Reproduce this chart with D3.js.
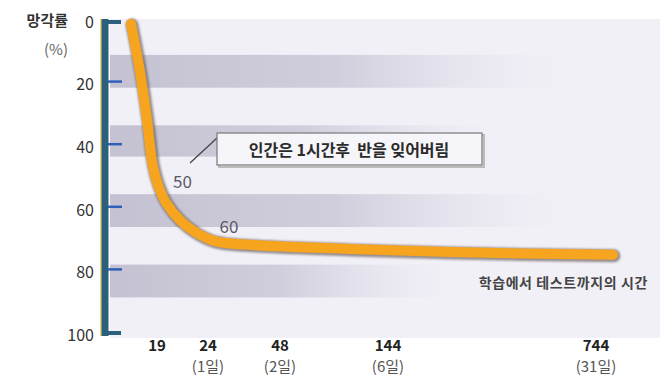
<!DOCTYPE html>
<html><head><meta charset="utf-8">
<script src="https://cdn.jsdelivr.net/npm/d3@7"></script>
<style>body{margin:0;background:#fff}svg{display:block}text{font-family:"Noto Sans CJK KR","Noto Sans",sans-serif}</style>
</head><body>
<svg id="c" width="669" height="381"></svg>
<script>
// ---- data ----
const yTicks = [0, 20, 40, 60, 80, 100];
const xTickHours = [19, 24, 48, 144, 744];
const xTickDays = ["", "(1일)", "(2일)", "(6일)", "(31일)"];
const curveHours = [0, 6.6, 11.7, 15.8, 19.1, 19.9, 21.25, 22.9, 26.3, 38, 110, 323, 793];
const curvePct   = [0.6, 16, 31.3, 45.7, 52.1, 57.8, 63.3, 67.4, 70, 71.2, 72.5, 73.5, 74.4];
const bandStart = [10.5, 33, 55, 77.5];
const bandEnd   = [21, 43, 65.5, 88];
const bandFade  = [0.82, 0.70, 0.82, 0.62];
const markLabels = ["50", "60"];
const markHours = [21.5, 31];
const markPct = [51, 65.5];

const svg = d3.select("#c");
const y = d3.scaleLinear().domain([0, 100]).range([22, 335]);
const x = d3.scaleLinear().domain([0, 19, 24, 48, 144, 744]).range([131, 157, 208, 280, 388, 596]);

const defs = svg.append("defs");
bandFade.forEach((f, i) => {
  const g = defs.append("linearGradient").attr("id", "bg" + i).attr("x1", 0).attr("x2", 1);
  g.append("stop").attr("offset", 0).attr("stop-color", "#c4c2d2").attr("stop-opacity", 1);
  g.append("stop").attr("offset", f * 0.5).attr("stop-color", "#cac8d7").attr("stop-opacity", 0.85);
  g.append("stop").attr("offset", f).attr("stop-color", "#dcdae5").attr("stop-opacity", 0);
});
const blur = defs.append("filter").attr("id", "sh").attr("x", -0.1).attr("y", -0.1).attr("width", 1.2).attr("height", 1.2);
blur.append("feGaussianBlur").attr("stdDeviation", 1.2);

// plot panel
svg.append("rect").attr("x", 110).attr("y", 19).attr("width", 550).attr("height", 319).attr("fill", "#f2f0f7");
svg.selectAll(".band").data(bandStart).join("rect")
  .attr("x", 110).attr("width", 550)
  .attr("y", d => y(d)).attr("height", (d, i) => y(bandEnd[i]) - y(d))
  .attr("fill", (d, i) => `url(#bg${i})`);

// y axis
svg.append("line").attr("x1", 101).attr("x2", 101).attr("y1", 19).attr("y2", 336).attr("stroke", "#e8c84a").attr("stroke-width", 1.5);
svg.append("line").attr("x1", 105).attr("x2", 105).attr("y1", 19).attr("y2", 336).attr("stroke", "#2b5f7e").attr("stroke-width", 7);
svg.selectAll(".foot").data([0, 100]).join("line")
  .attr("x1", 105).attr("x2", 121).attr("y1", d => y(d) + (d === 0 ? 0 : -2)).attr("y2", d => y(d) + (d === 0 ? 0 : -2))
  .attr("stroke", "#2b5f7e").attr("stroke-width", 4);
svg.selectAll(".tk").data(yTicks.slice(1, -1)).join("line")
  .attr("x1", 108).attr("x2", 122).attr("y1", d => y(d) - 3).attr("y2", d => y(d) - 3)
  .attr("stroke", "#2f5fb8").attr("stroke-width", 2.5);
svg.selectAll(".yl").data(yTicks).join("text")
  .attr("x", 94).attr("y", d => y(d)).attr("dy", "0.36em").attr("text-anchor", "end")
  .attr("font-size", 16).attr("fill", "#333").text(d => d);
svg.append("text").attr("x", 68).attr("y", 21).attr("dy", "0.36em").attr("text-anchor", "end")
  .attr("font-size", 15).attr("font-weight", "bold").attr("fill", "#333").text("망각률");
svg.append("text").attr("x", 68).attr("y", 50).attr("dy", "0.36em").attr("text-anchor", "end")
  .attr("font-size", 15).attr("fill", "#666").text("(%)");

// x labels
svg.selectAll(".xl").data(xTickHours).join("text")
  .attr("x", d => x(d)).attr("y", 346).attr("dy", "0.36em").attr("text-anchor", "middle")
  .attr("font-size", 15).attr("font-weight", "bold").attr("fill", "#222").text(d => d);
svg.selectAll(".xd").data(xTickDays).join("text")
  .attr("x", (d, i) => x(xTickHours[i])).attr("y", 367).attr("dy", "0.36em").attr("text-anchor", "middle")
  .attr("font-size", 15).attr("fill", "#555").text(d => d);

// curve
const line = d3.line().x(d => x(d[0])).y(d => y(d[1])).curve(d3.curveCatmullRom.alpha(0.5));
const pts = curveHours.map((h, i) => [h, curvePct[i]]);
svg.append("path").attr("d", line(pts)).attr("fill", "none").attr("stroke", "#6e6460")
  .attr("stroke-width", 13).attr("stroke-linecap", "round").attr("stroke-linejoin", "round")
  .attr("opacity", 0.7).attr("transform", "translate(1,1)").attr("filter", "url(#sh)");
svg.append("path").attr("d", line(pts)).attr("fill", "none").attr("stroke", "#f7a51f")
  .attr("stroke-width", 10).attr("stroke-linecap", "round").attr("stroke-linejoin", "round");

// marks
svg.selectAll(".ml").data(markLabels).join("text")
  .attr("x", (d, i) => x(markHours[i])).attr("y", (d, i) => y(markPct[i])).attr("dy", "0.36em")
  .attr("text-anchor", "middle").attr("font-size", 17).attr("fill", "#5a5a66").text(d => d);

// annotation
svg.append("line").attr("x1", 190).attr("y1", 163).attr("x2", 217).attr("y2", 138).attr("stroke", "#444").attr("stroke-width", 1.3);
svg.append("rect").attr("x", 219).attr("y", 135).attr("width", 265).attr("height", 32).attr("fill", "none").attr("stroke", "#bbb").attr("stroke-width", 2);
svg.append("rect").attr("x", 217).attr("y", 133).attr("width", 265).attr("height", 32).attr("fill", "#f6f5f9").attr("stroke", "#777").attr("stroke-width", 1.2);
svg.append("text").attr("x", 349).attr("y", 150).attr("dy", "0.36em").attr("text-anchor", "middle")
  .attr("font-size", 16).attr("font-weight", "bold").attr("fill", "#2a2a2a").attr("xml:space", "preserve")
  .text("인간은 1시간후  반을 잊어버림");
svg.append("text").attr("x", 648).attr("y", 283).attr("dy", "0.36em").attr("text-anchor", "end")
  .attr("font-size", 14).attr("letter-spacing", 0.6).attr("font-weight", "bold").attr("fill", "#444").text("학습에서 테스트까지의 시간");
</script>
</body></html>
